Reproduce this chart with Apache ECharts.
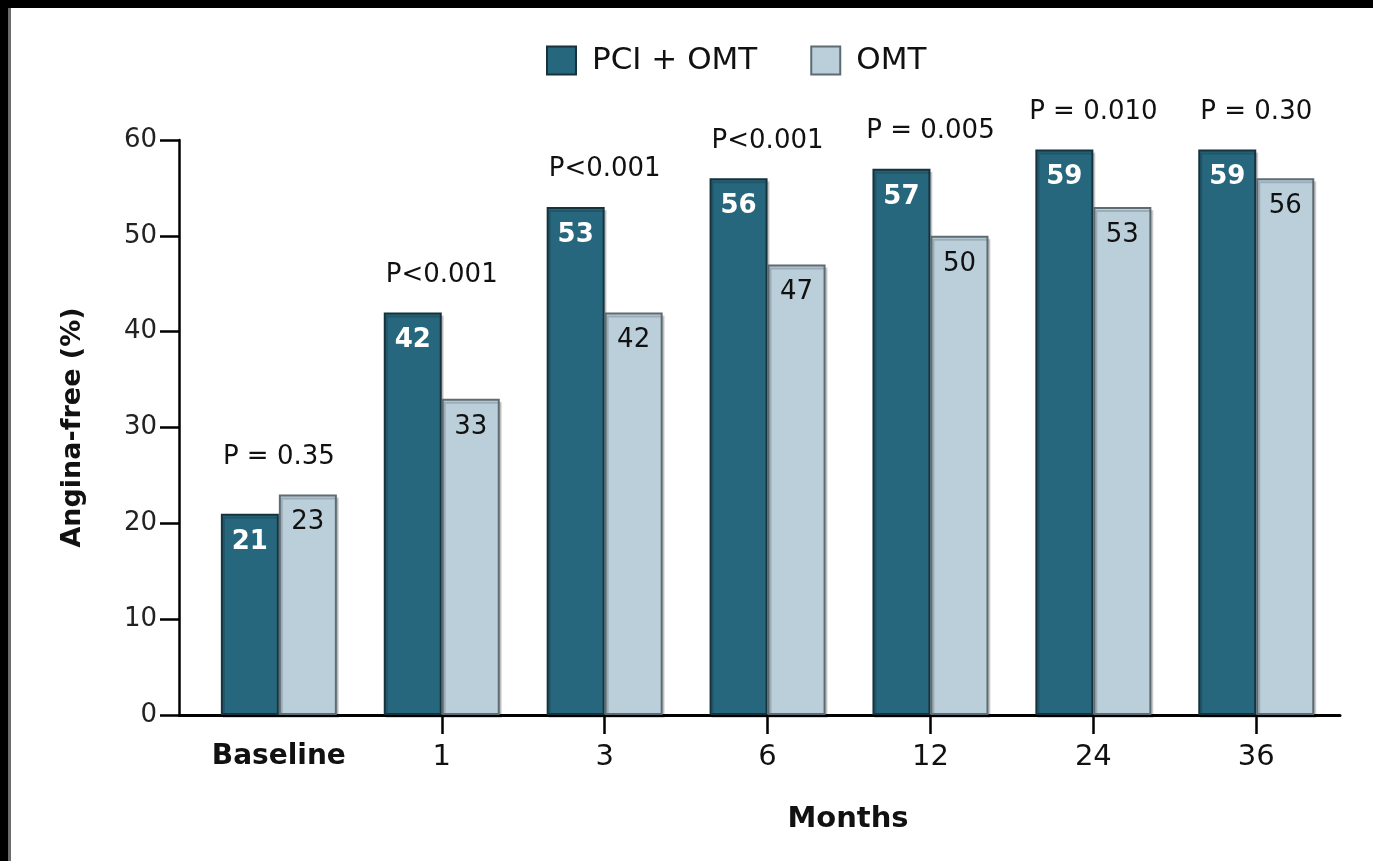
<!DOCTYPE html>
<html>
<head>
<meta charset="utf-8">
<script src="https://cdn.jsdelivr.net/npm/echarts@6/dist/echarts.min.js"></script>
<style>
  html, body { margin: 0; padding: 0; background: #fff; }
  #chart { position: absolute; left: 0; top: 0; width: 1373px; height: 861px; background: #fff; }
  .frame { position: absolute; background: #000; z-index: 5; }
  #frameTop { left: 0; top: 0; width: 1373px; height: 8px; }
  #frameLeft { left: 0; top: 0; width: 8px; height: 861px; }
  #frameEdge { left: 8px; top: 8px; width: 3px; height: 853px; background: #6c6c6c; }
</style>
</head>
<body>
<div id="chart"></div>
<div class="frame" id="frameTop"></div>
<div class="frame" id="frameLeft"></div>
<div class="frame" id="frameEdge"></div>
<script>
// Follow-up time points (months) and share of patients free of angina (%)
const categories = ['Baseline', '1', '3', '6', '12', '24', '36'];
const pciOmt = [21, 42, 53, 56, 57, 59, 59];
const omtOnly = [23, 33, 42, 47, 50, 53, 56];
const pValues = ['P = 0.35', 'P<0.001', 'P<0.001', 'P<0.001', 'P = 0.005', 'P = 0.010', 'P = 0.30'];
const seriesNames = ['PCI + OMT', 'OMT'];

const FONT = 'DejaVu Sans';
const positions = categories.map((_, i) => i);

const chart = echarts.init(document.getElementById('chart'), null, { renderer: 'canvas' });

chart.setOption({
  animation: false,
  backgroundColor: '#ffffff',
  textStyle: { fontFamily: FONT },
  legend: {
    left: 546,
    top: 45,
    padding: 0,
    icon: 'rect',
    itemWidth: 29,
    itemHeight: 28,
    itemGap: 53,
    data: seriesNames,
    textStyle: { fontFamily: FONT, fontSize: 31, color: '#111', padding: [0, 0, 0, 11] }
  },
  grid: { left: 179, right: 33, top: 140, bottom: 146 },
  xAxis: {
    type: 'value',
    min: -0.613,
    max: 6.514,
    splitLine: { show: false },
    axisLine: { show: true, onZero: false, lineStyle: { color: '#000', width: 3 } },
    axisTick: {
      show: true,
      customValues: positions.slice(1),
      length: 19,
      lineStyle: { color: '#000', width: 2.5 }
    },
    axisLabel: {
      customValues: positions,
      margin: 28,
      fontFamily: FONT,
      fontSize: 29,
      color: '#111',
      formatter: v => {
        const i = Math.round(v);
        return i === 0 ? '{b|' + categories[0] + '}' : categories[i];
      },
      rich: { b: { fontFamily: FONT, fontSize: 28, fontWeight: 'bold', color: '#111' } }
    },
    name: 'Months',
    nameLocation: 'middle',
    nameGap: 90,
    nameTextStyle: { fontFamily: FONT, fontSize: 29, fontWeight: 'bold', color: '#111', padding: [0, 0, 0, 177] }
  },
  yAxis: {
    type: 'value',
    min: 0,
    max: 60,
    interval: 10,
    splitLine: { show: false },
    axisLine: { show: true, onZero: false, lineStyle: { color: '#000', width: 2.5 } },
    axisTick: { show: true, length: 19, lineStyle: { color: '#000', width: 2.5 } },
    axisLabel: { margin: 22, fontFamily: FONT, fontSize: 26, color: '#222' },
    name: 'Angina-free (%)',
    nameLocation: 'middle',
    nameRotate: 90,
    nameGap: 93,
    nameTextStyle: { fontFamily: FONT, fontSize: 27, fontWeight: 'bold', color: '#111' }
  },
  series: [
    {
      name: seriesNames[0],
      type: 'bar',
      barWidth: 58,
      barGap: '0%',
      data: pciOmt.map((v, i) => [i, v]),
      itemStyle: {
        color: '#27677d',
        borderColor: '#15323d',
        borderWidth: 2,
        shadowColor: 'rgba(0,0,0,0.16)',
        shadowOffsetX: 2,
        shadowOffsetY: 3
      },
      label: {
        show: true,
        position: 'insideTop',
        distance: 15,
        fontFamily: FONT,
        fontSize: 26,
        fontWeight: 'bold',
        color: '#ffffff',
        formatter: p => String(p.value[1])
      }
    },
    {
      name: seriesNames[1],
      type: 'bar',
      barWidth: 58,
      barGap: '0%',
      data: omtOnly.map((v, i) => [i, v]),
      itemStyle: {
        color: '#bacfda',
        borderColor: '#5d6b73',
        borderWidth: 2,
        shadowColor: 'rgba(0,0,0,0.16)',
        shadowOffsetX: 2,
        shadowOffsetY: 3
      },
      label: {
        show: true,
        position: 'insideTop',
        distance: 15,
        fontFamily: FONT,
        fontSize: 26,
        color: '#111',
        formatter: p => String(p.value[1])
      }
    },
    {
      // P-value annotations sit above the taller bar of each pair
      type: 'scatter',
      symbolSize: 1,
      itemStyle: { color: 'rgba(0,0,0,0)', opacity: 1 },
      silent: true,
      data: pciOmt.map((v, i) => [i, Math.max(v, omtOnly[i])]),
      label: {
        show: true,
        position: 'top',
        distance: 24,
        fontFamily: FONT,
        fontSize: 26,
        color: '#111',
        opacity: 1,
        formatter: p => pValues[p.dataIndex]
      }
    }
  ]
});
</script>
</body>
</html>
